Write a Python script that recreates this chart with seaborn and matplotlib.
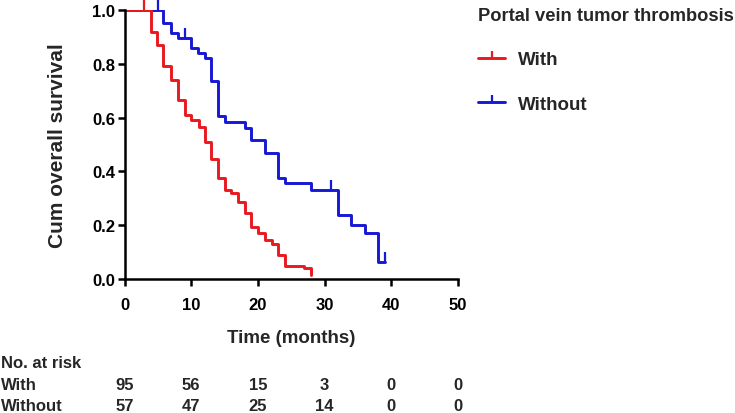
import pandas as pd
import seaborn as sns
import matplotlib.pyplot as plt
import matplotlib.transforms as mtransforms

# Kaplan-Meier steps (months, cumulative survival)
with_time = [0, 4.0, 4.8, 5.8, 7.0, 8.0, 9.0, 10.0, 11.1, 12.1, 12.9, 14.0, 15.0,
             16.0, 17.0, 18.0, 19.0, 20.0, 21.0, 22.1, 23.0, 24.0, 26.9, 28.0]
with_surv = [1.0, 0.92, 0.87, 0.79, 0.74, 0.665, 0.61, 0.59, 0.565, 0.51, 0.445, 0.375, 0.33,
             0.32, 0.285, 0.245, 0.195, 0.17, 0.145, 0.13, 0.09, 0.05, 0.04, 0.015]
with_cens_time = [2.9]
with_cens_surv = [1.0]

without_time = [0, 5.8, 7.0, 8.0, 10.0, 11.0, 12.0, 13.0, 14.0, 15.0, 18.0, 19.0, 21.0,
                23.0, 24.0, 28.0, 32.0, 34.0, 36.0, 38.0, 39.0]
without_surv = [1.0, 0.95, 0.915, 0.897, 0.86, 0.842, 0.82, 0.735, 0.606, 0.584, 0.561, 0.515, 0.469,
                0.376, 0.356, 0.329, 0.238, 0.202, 0.17, 0.064, 0.064]
without_cens_time = [5.0, 9.0, 31.0, 39.0]
without_cens_surv = [1.0, 0.897, 0.329, 0.064]

# Number at risk table
risk_times = [0, 10, 20, 30, 40, 50]
risk_with = [95, 56, 15, 3, 0, 0]
risk_without = [57, 47, 25, 14, 0, 0]

groups = ['With', 'Without']
colors = {'With': '#E8191F', 'Without': '#1717D6'}

df = pd.concat([
    pd.DataFrame({'time': with_time, 'surv': with_surv, 'group': 'With'}),
    pd.DataFrame({'time': without_time, 'surv': without_surv, 'group': 'Without'}),
])
cens = pd.concat([
    pd.DataFrame({'time': with_cens_time, 'surv': with_cens_surv, 'group': 'With'}),
    pd.DataFrame({'time': without_cens_time, 'surv': without_cens_surv, 'group': 'Without'}),
])

sns.set_style('ticks')
plt.rcParams['font.family'] = ['Liberation Sans', 'DejaVu Sans']
plt.rcParams['font.weight'] = 'bold'

fig = plt.figure(figsize=(7.35, 4.14), dpi=100)
ax = fig.add_axes([0.1694, 0.3237, 0.4537, 0.6497])

# draw blue first so the red one sits on top at 1.0
for g in ['Without', 'With']:
    d = df[df['group'] == g]
    sns.lineplot(data=d, x='time', y='surv', ax=ax, color=colors[g], lw=2.1,
                 drawstyle='steps-post', estimator=None, sort=False)
    c = cens[cens['group'] == g]
    ax.plot(c['time'], c['surv'], ls='none', marker=2, ms=7, mew=1.6, color=colors[g], clip_on=False)

# legend handles: line with tick-up marker
handles = [plt.Line2D([0, 1], [0, 0], color=colors[g], lw=2.1, marker=2, ms=5, mew=1.6)
           for g in groups]
leg = fig.legend(handles, groups, loc='upper left', bbox_to_anchor=(0.628, 1.021),
                 frameon=False, title='Portal vein tumor thrombosis', alignment='left',
                 prop={'size': 13.5, 'weight': 'bold'}, title_fontproperties={'size': 13.2, 'weight': 'bold'},
                 handlelength=1.4, handletextpad=0.7, labelspacing=1.45, numpoints=1)

ax.set_xlim(0, 50)
ax.set_ylim(0, 1.0)
ax.set_xticks(risk_times)
ax.set_yticks([0, 0.2, 0.4, 0.6, 0.8, 1.0])
ax.set_yticklabels(['0.0', '0.2', '0.4', '0.6', '0.8', '1.0'])
ax.tick_params(width=1.8, length=5, labelsize=12, colors='black')
ax.tick_params(axis='x', pad=8)
ax.tick_params(axis='y', pad=1.5)
for s in ['left', 'bottom']:
    ax.spines[s].set_linewidth(1.8)
    ax.spines[s].set_color('black')
sns.despine(ax=ax)
ax.set_xlabel('Time (months)', fontsize=13.5, fontweight='bold', labelpad=12)
ax.set_ylabel('Cum overall survival', fontsize=15, fontweight='bold', labelpad=18)
if ax.get_legend():
    ax.get_legend().remove()

# number at risk table below the axis
trans = mtransforms.blended_transform_factory(ax.transData, fig.transFigure)
fig.text(0.002, 0.121, 'No. at risk', fontsize=12, fontweight='bold', va='center')
fig.text(0.002, 0.070, 'With', fontsize=12, fontweight='bold', va='center')
fig.text(0.002, 0.017, 'Without', fontsize=12, fontweight='bold', va='center')
for t, a, b in zip(risk_times, risk_with, risk_without):
    ax.text(t, 0.070, str(a), transform=trans, ha='center', va='center', fontsize=12, fontweight='bold')
    ax.text(t, 0.017, str(b), transform=trans, ha='center', va='center', fontsize=12, fontweight='bold')

fig.savefig('out.png', dpi=100)
